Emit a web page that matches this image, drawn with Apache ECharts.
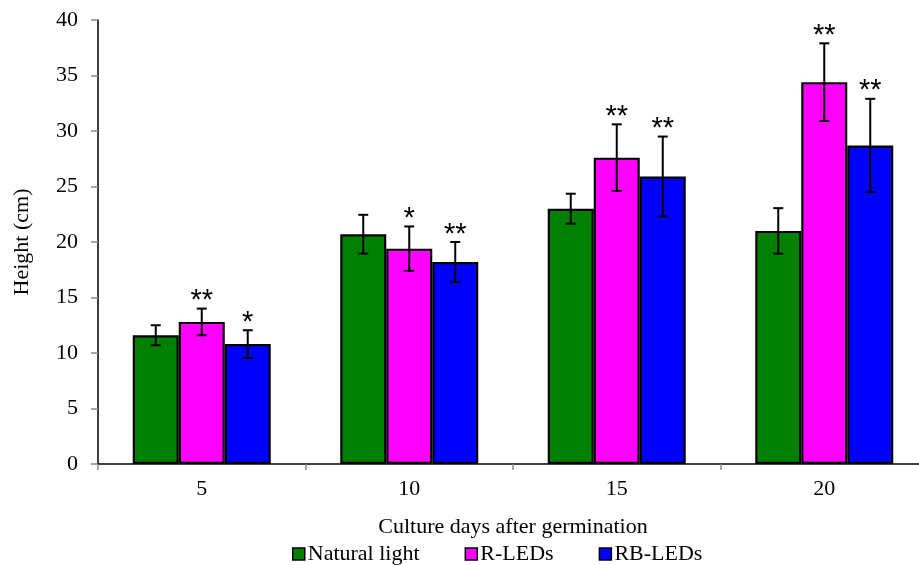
<!DOCTYPE html>
<html>
<head>
<meta charset="utf-8">
<script src="https://cdn.jsdelivr.net/npm/echarts@6/dist/echarts.min.js"></script>
<style>html,body{margin:0;padding:0;background:#fff}#c{width:919px;height:565px}</style>
</head>
<body>
<div id="c"></div>
<script>
var categories = ['5', '10', '15', '20'];
var seriesNames = ['Natural light', 'R-LEDs', 'RB-LEDs'];
var naturalLight = [11.6, 20.7, 23.0, 21.0];
var rLeds = [12.8, 19.4, 27.6, 34.4];
var rbLeds = [10.8, 18.2, 25.9, 28.7];
var naturalErr = [0.9, 1.75, 1.35, 2.05];
var rLedsErr = [1.2, 2.0, 3.0, 3.5];
var rbLedsErr = [1.25, 1.8, 3.6, 4.2];
var naturalStars = ['', '', '', ''];
var rLedsStars = ['**', '*', '**', '**'];
var rbLedsStars = ['*', '**', '**', '**'];
var yTicks = { min: 0, max: 40, interval: 5 };

var colors = ['#008000', '#FF00FF', '#0000FF'];
var values = [naturalLight, rLeds, rbLeds];
var errs = [naturalErr, rLedsErr, rbLedsErr];
var stars = [naturalStars, rLedsStars, rbLedsStars];
var CAT_GAP = 0.335;
var FONT = 'Liberation Serif';

var chart = echarts.init(document.getElementById('c'));

function makeErr(si) {
  return {
    type: 'custom',
    z: 10,
    silent: true,
    data: categories.map(function (c, i) { return [i, values[si][i], errs[si][i]]; }),
    encode: { x: 0, y: 1 },
    renderItem: function (params, api) {
      var ci = api.value(0), v = api.value(1), e = api.value(2);
      var star = stars[si][ci];
      var bw = api.size([1, 0])[0] * (1 - CAT_GAP) / 3;
      var c = api.coord([ci, v]);
      var x = c[0] + (si - 1) * bw;
      var top = api.coord([ci, v + e])[1];
      var bot = api.coord([ci, v - e])[1];
      var st = { stroke: '#000', lineWidth: 2 };
      var children = [
        { type: 'line', shape: { x1: x, y1: top, x2: x, y2: bot }, style: st },
        { type: 'line', shape: { x1: x - 5, y1: top, x2: x + 5, y2: top }, style: st },
        { type: 'line', shape: { x1: x - 5, y1: bot, x2: x + 5, y2: bot }, style: st }
      ];
      if (star) {
        children.push({ type: 'text', style: { text: star, x: x, y: top + 7, align: 'center', verticalAlign: 'bottom', font: '29px "Liberation Sans"', fill: '#000' } });
      }
      return { type: 'group', children: children };
    }
  };
}

var series = seriesNames.map(function (n, si) {
  return {
    name: n,
    type: 'bar',
    data: values[si],
    barGap: '0%',
    barCategoryGap: (CAT_GAP * 100) + '%',
    itemStyle: { color: colors[si], borderColor: '#000', borderWidth: 2.2 }
  };
});
series.push(makeErr(0), makeErr(1), makeErr(2));

chart.setOption({
  animation: false,
  backgroundColor: '#fff',
  textStyle: { fontFamily: FONT, color: '#000' },
  grid: { left: 98, top: 20, width: 830, height: 444, containLabel: false, outerBoundsMode: 'none' },
  legend: {
    data: seriesNames,
    left: 287,
    top: 538,
    icon: 'rect',
    itemWidth: 12,
    itemHeight: 12,
    itemGap: 45,
    itemStyle: { borderColor: '#000', borderWidth: 1.5 },
    textStyle: { fontFamily: FONT, fontSize: 22, color: '#000', padding: [0, 0, 0, -2] }
  },
  xAxis: {
    type: 'category',
    data: categories,
    name: 'Culture days after germination',
    nameLocation: 'middle',
    nameGap: 52,
    nameTextStyle: { fontFamily: FONT, fontSize: 22, color: '#000' },
    axisLine: { lineStyle: { color: '#000', width: 1.5 } },
    axisTick: { show: true, length: 6, lineStyle: { color: '#888', width: 1.5 } },
    axisLabel: { fontFamily: FONT, fontSize: 22, color: '#000', margin: 14 }
  },
  yAxis: {
    type: 'value',
    min: yTicks.min,
    max: yTicks.max,
    interval: yTicks.interval,
    name: 'Height (cm)',
    nameLocation: 'middle',
    nameGap: 65,
    nameRotate: 90,
    nameTextStyle: { fontFamily: FONT, fontSize: 22, color: '#000' },
    splitLine: { show: false },
    axisLine: { show: true, lineStyle: { color: '#000', width: 1.5 } },
    axisTick: { show: true, length: 7, lineStyle: { color: '#888', width: 1.5 } },
    axisLabel: { fontFamily: FONT, fontSize: 22, color: '#000', margin: 20 }
  },
  series: series
});
</script>
</body>
</html>
